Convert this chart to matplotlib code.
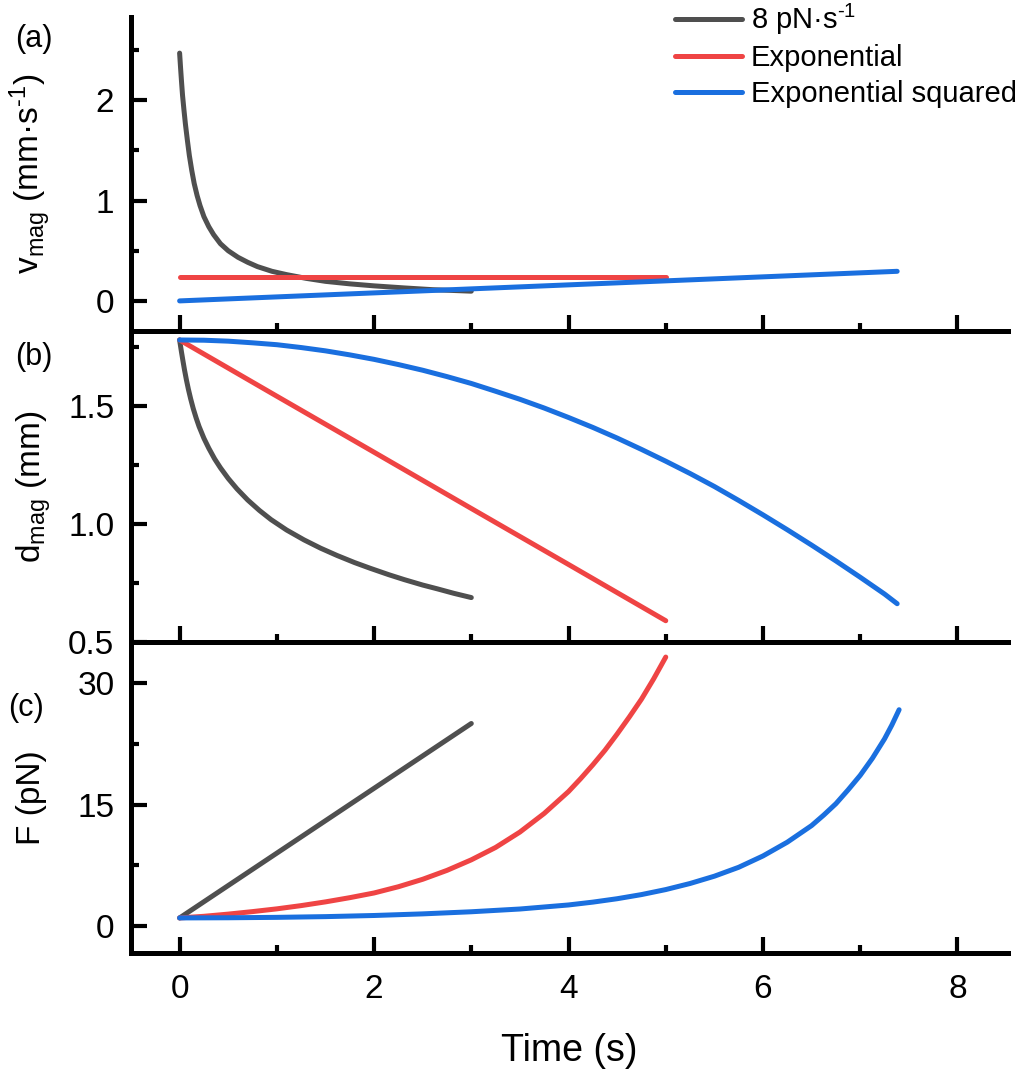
import matplotlib
matplotlib.use("Agg")
import matplotlib.pyplot as plt
import matplotlib.ticker as ticker

plt.rcParams['font.family'] = ['Liberation Sans', 'DejaVu Sans']
plt.rcParams['mathtext.fontset'] = 'custom'
plt.rcParams['mathtext.rm'] = 'Liberation Sans'
plt.rcParams['mathtext.it'] = 'Liberation Sans:italic'
plt.rcParams['mathtext.default'] = 'regular'

# series labels and colours
labels = ['8 pN·s$^{\u20101}$', 'Exponential', 'Exponential squared']
colors = ['#4f4f4f', '#ef4444', '#1a6fdf']

# (a) velocity of the magnet, mm/s
t_v_lin = [0, 0.01, 0.02, 0.03, 0.045, 0.06, 0.08, 0.1, 0.125, 0.15, 0.18, 0.21,
           0.25, 0.3, 0.35, 0.42, 0.5, 0.6, 0.7, 0.8, 0.95, 1.1, 1.3, 1.5, 1.75,
           2.0, 2.3, 2.6, 3.0]
v_lin = [2.47, 2.32, 2.18, 2.05, 1.9, 1.76, 1.6, 1.45, 1.3, 1.17, 1.05, 0.95,
         0.84, 0.74, 0.66, 0.57, 0.5, 0.435, 0.385, 0.342, 0.295, 0.262, 0.225,
         0.195, 0.17, 0.15, 0.13, 0.112, 0.097]
t_v_exp = [0, 5.0]
v_exp = [0.235, 0.235]
t_v_exp2 = [0, 7.38]
v_exp2 = [0.0, 0.295]

# (b) magnet distance, mm
t_d_lin = [0, 0.01, 0.02, 0.035, 0.05, 0.07, 0.09, 0.113, 0.14, 0.17, 0.2, 0.25,
           0.3, 0.36, 0.42, 0.5, 0.59, 0.7, 0.82, 0.94, 1.1, 1.28, 1.45, 1.62,
           1.8, 1.96, 2.15, 2.31, 2.5, 2.65, 2.82, 3.0]
d_lin = [1.778, 1.751, 1.725, 1.688, 1.652, 1.609, 1.57, 1.53, 1.488, 1.448,
         1.412, 1.362, 1.32, 1.275, 1.237, 1.192, 1.148, 1.101, 1.057, 1.018,
         0.974, 0.932, 0.897, 0.866, 0.836, 0.812, 0.785, 0.764, 0.741, 0.725,
         0.706, 0.688]
t_d_exp = [0, 1, 2, 3, 4, 5.0]
d_exp = [1.778, 1.54, 1.303, 1.065, 0.828, 0.59]
t_d_exp2 = [0, 0.25, 0.5, 0.75, 1, 1.25, 1.5, 1.75, 2, 2.25, 2.5, 2.75, 3, 3.25,
            3.5, 3.75, 4, 4.25, 4.5, 4.75, 5, 5.25, 5.5, 5.75, 6, 6.25, 6.5,
            6.75, 7, 7.25, 7.38]
d_exp2 = [1.778, 1.777, 1.773, 1.766, 1.758, 1.746, 1.732, 1.715, 1.696, 1.674,
          1.65, 1.623, 1.594, 1.561, 1.527, 1.49, 1.45, 1.408, 1.363, 1.315,
          1.265, 1.213, 1.158, 1.099, 1.038, 0.975, 0.91, 0.843, 0.774, 0.703,
          0.662]

# (c) force, pN
t_f_lin = [0, 1, 2, 3.0]
f_lin = [1, 9, 17, 25]
t_f_exp = [0, 0.25, 0.5, 0.75, 1, 1.25, 1.5, 1.75, 2, 2.25, 2.5, 2.75, 3, 3.25,
           3.5, 3.75, 4, 4.125, 4.25, 4.375, 4.5, 4.625, 4.75, 4.875, 5.0]
f_exp = [1, 1.2, 1.47, 1.78, 2.12, 2.52, 2.98, 3.5, 4.08, 4.85, 5.77, 6.87,
         8.17, 9.7, 11.6, 13.9, 16.6, 18.2, 19.9, 21.7, 23.7, 25.8, 28.0, 30.5,
         33.2]
t_f_exp2 = [0, 0.5, 1, 1.5, 2, 2.5, 3, 3.5, 4, 4.25, 4.5, 4.75, 5, 5.25, 5.5,
            5.75, 6, 6.25, 6.5, 6.625, 6.75, 6.875, 7, 7.125, 7.25, 7.325, 7.4]
f_exp2 = [1, 1.02, 1.07, 1.16, 1.3, 1.5, 1.76, 2.1, 2.6, 2.95, 3.37, 3.88,
          4.5, 5.25, 6.15, 7.25, 8.65, 10.35, 12.4, 13.7, 15.1, 16.8, 18.6,
          20.7, 23.1, 24.8, 26.7]

W, H = 1019, 1077
fig = plt.figure(figsize=(W / 100, H / 100), dpi=100)

left = 131 / W
width = (1008 - 131) / W


def box(top_px, bottom_px):
    return [left, 1 - bottom_px / H, width, (bottom_px - top_px) / H]


ax_a = fig.add_axes(box(17, 331))
ax_b = fig.add_axes(box(331, 642))
ax_c = fig.add_axes(box(642, 953))

panels = [
    (ax_a, [(t_v_lin, v_lin), (t_v_exp, v_exp), (t_v_exp2, v_exp2)]),
    (ax_b, [(t_d_lin, d_lin), (t_d_exp, d_exp), (t_d_exp2, d_exp2)]),
    (ax_c, [(t_f_lin, f_lin), (t_f_exp, f_exp), (t_f_exp2, f_exp2)]),
]

handles = []
for ax, series in panels:
    ax.patch.set_visible(False)
    for (t, y), c, lab in zip(series, colors, labels):
        ln, = ax.plot(t, y, color=c, lw=3.6, solid_capstyle='round',
                      solid_joinstyle='round', label=lab)
        if ax is ax_a:
            handles.append(ln)
    ax.set_xlim(-0.5, 8.52)
    for s in ['top', 'right']:
        ax.spines[s].set_visible(False)
    for s in ['left', 'bottom']:
        ax.spines[s].set_linewidth(3.6)
    ax.xaxis.set_major_locator(ticker.MultipleLocator(2))
    ax.xaxis.set_minor_locator(ticker.MultipleLocator(1))
    ax.tick_params(which='major', direction='in', length=11.5, width=3,
                   labelsize=24, pad=12)
    ax.tick_params(which='minor', direction='in', length=5.8, width=3)
    ax.tick_params(axis='x', which='both', labelbottom=False)

ax_a.set_ylim(-0.3, 2.83)
ax_a.yaxis.set_major_locator(ticker.MultipleLocator(1))
ax_a.yaxis.set_minor_locator(ticker.MultipleLocator(0.5))
ax_a.set_ylabel('v$_{mag}$ (mm·s$^{\u20101}$)', fontsize=24)
ax_a.yaxis.set_label_coords(-0.089, 0.5)

ax_b.set_ylim(0.5, 1.816)
ax_b.yaxis.set_major_locator(ticker.MultipleLocator(0.5))
ax_b.yaxis.set_minor_locator(ticker.MultipleLocator(0.25))
ax_b.yaxis.set_major_formatter(ticker.FormatStrFormatter('%.1f'))
ax_b.set_ylabel('d$_{mag}$ (mm)', fontsize=24)
ax_b.yaxis.set_label_coords(-0.089, 0.5)

ax_c.set_ylim(-3.33, 35.06)
ax_c.yaxis.set_major_locator(ticker.MultipleLocator(15))
ax_c.yaxis.set_minor_locator(ticker.MultipleLocator(7.5))
ax_c.set_ylabel('F (pN)', fontsize=24)
ax_c.yaxis.set_label_coords(-0.096, 0.5)
ax_c.tick_params(axis='x', which='major', labelbottom=True, pad=15)
ax_c.set_xlabel('Time (s)', fontsize=27, labelpad=20)

fig.text(15 / W, 1 - 39 / H, '(a)', fontsize=22, va='center', ha='left')
fig.text(15 / W, 1 - 357 / H, '(b)', fontsize=22, va='center', ha='left')
fig.text(8 / W, 1 - 708 / H, '(c)', fontsize=22, va='center', ha='left')

fig.legend(handles=handles, loc='upper right', bbox_to_anchor=(1017 / W, 1 - 2 / H),
           frameon=False, fontsize=21, handlelength=2.3, handletextpad=0.3,
           labelspacing=0.25, borderaxespad=0, borderpad=0)

fig.savefig('out.png', dpi=100)
